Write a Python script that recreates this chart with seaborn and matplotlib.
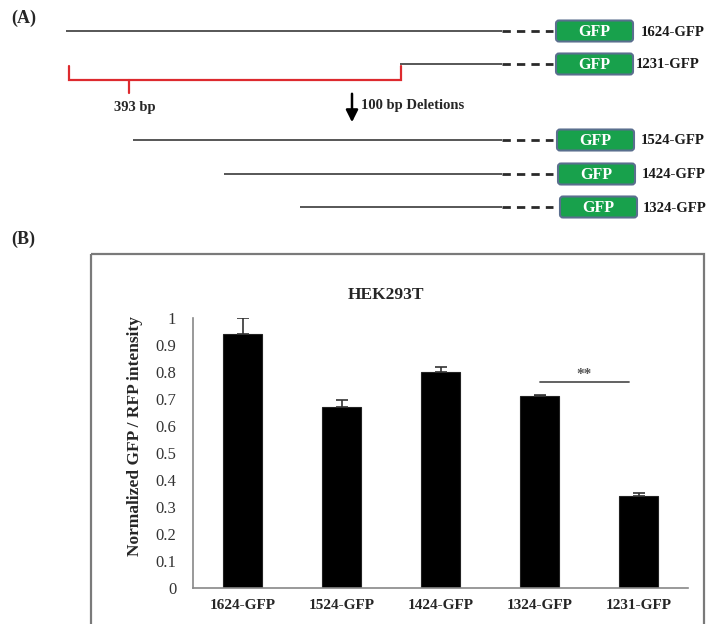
import numpy as np
import pandas as pd
import matplotlib
matplotlib.use("Agg")
import matplotlib.pyplot as plt
import seaborn as sns
from matplotlib.patches import FancyBboxPatch, Rectangle

# ---------------- data ----------------
categories = ["1624-GFP", "1524-GFP", "1424-GFP", "1324-GFP", "1231-GFP"]
values = [0.94, 0.67, 0.80, 0.71, 0.34]
errors = [0.06, 0.025, 0.02, 0.005, 0.012]
yticks = [0, 0.1, 0.2, 0.3, 0.4, 0.5, 0.6, 0.7, 0.8, 0.9, 1]
ytick_labels = ["0", "0.1", "0.2", "0.3", "0.4", "0.5", "0.6", "0.7", "0.8", "0.9", "1"]
sig_pair = [3, 4]
sig_text = "**"

# schematic constructs (panel A)
construct_names = ["1624-GFP", "1231-GFP", "1524-GFP", "1424-GFP", "1324-GFP"]

sns.set_theme(style="white")
plt.rcParams["font.family"] = ["Liberation Serif", "DejaVu Serif"]

W, H = 707, 624
fig = plt.figure(figsize=(W / 100, H / 100), dpi=100)

# ---------------- overlay axes in pixel coordinates ----------------
ov = fig.add_axes([0, 0, 1, 1])
ov.set_xlim(0, W)
ov.set_ylim(H, 0)
ov.axis("off")

ov.text(11, 18, "(A)", fontsize=13, fontweight="bold", va="center", ha="left")
ov.text(11, 239, "(B)", fontsize=13, fontweight="bold", va="center", ha="left")

# construct layout (pixels): y, line start, box left
rows_y = [31, 64, 140, 174, 207]
line_start = [66, 400, 133, 224, 300]
box_left = [556, 556, 557, 558, 560]
label_x = [641, 636, 641, 642, 643]
line_end = 502
dash_end = 553
for name, y, xs, bl, lx in zip(construct_names, rows_y, line_start, box_left, label_x):
    ov.plot([xs, line_end], [y, y], color="#3a3a3a", lw=1.2, solid_capstyle="butt")
    ov.plot([line_end, dash_end], [y, y], color="#2a2a2a", lw=2.0, ls=(0, (3, 2.2)))
    box = FancyBboxPatch((bl, y - 10.5), 77, 21, boxstyle="round,pad=0,rounding_size=3",
                         facecolor="#18a14c", edgecolor="#5a6f8e", lw=1.5)
    ov.add_patch(box)
    ov.text(bl + 38.5, y + 1.2, "GFP", color="white", fontsize=11.5, fontweight="bold",
            ha="center", va="center")
    ov.text(lx, y + 1, name, color="#1a1a1a", fontsize=10.6, fontweight="bold",
            ha="left", va="center")

# red bracket
red = "#dd2a2e"
ov.plot([69, 69, 401, 401], [66, 80, 80, 66], color=red, lw=1.6, solid_joinstyle="miter")
ov.plot([129, 129], [80, 93], color=red, lw=1.6)
ov.text(135, 107, "393 bp", fontsize=10.5, fontweight="bold", ha="center", va="center")

# arrow
ov.annotate("", xy=(352, 125), xytext=(352, 91),
            arrowprops=dict(arrowstyle="-|>,head_length=0.6,head_width=0.3", color="black", lw=1.8))
ov.text(361, 106, "100 bp Deletions", fontsize=10.5, fontweight="bold", ha="left", va="center")

# panel B frame
ov.add_patch(Rectangle((91, 254), 613, 400, facecolor="none", edgecolor="#7a7a7a", lw=1.6))

# ---------------- bar chart ----------------
ax = fig.add_axes([193 / W, 1 - 588 / H, (688 - 193) / W, (588 - 318) / H])
df = pd.DataFrame({"construct": categories, "value": values})
sns.barplot(data=df, x="construct", y="value", color="black", width=0.4,
            edgecolor="#222222", linewidth=0.8, saturation=1, ax=ax)
xpos = np.arange(len(categories))
ax.errorbar(xpos, values, yerr=[np.zeros(len(errors)), errors], fmt="none",
            ecolor="#333333", elinewidth=1.2, capsize=4, capthick=1.2)

ax.set_xlim(-0.5, len(categories) - 0.5)
ax.set_ylim(0, 1)
ax.set_yticks(yticks)
ax.set_yticklabels(ytick_labels, fontsize=12, color="#333333")
ax.set_xticks(xpos)
ax.set_xticklabels(categories, fontsize=11, fontweight="bold")
ax.set_xticks(np.arange(-0.5, len(categories), 1), minor=True)
ax.tick_params(axis="x", which="major", length=0, pad=8)
ax.tick_params(axis="x", which="minor", length=4, width=1, color="#888888", direction="out")
ax.tick_params(axis="y", length=5, width=1, color="#888888", direction="out", pad=7)
for s in ["top", "right"]:
    ax.spines[s].set_visible(False)
for s in ["left", "bottom"]:
    ax.spines[s].set_color("#888888")
    ax.spines[s].set_linewidth(1.2)
ax.set_xlabel("")
ax.set_ylabel("Normalized GFP / RFP intensity", fontsize=12.5, fontweight="bold")
ax.yaxis.set_label_coords(-0.101, 0.563)
ax.set_title("HEK293T", fontsize=12.5, fontweight="bold", x=0.39, pad=14)

# significance
ax.plot([sig_pair[0], sig_pair[1] - 0.1], [0.763, 0.763], color="#555555", lw=1.3)
ax.text((sig_pair[0] + sig_pair[1] - 0.1) / 2, 0.768, sig_text, ha="center", va="bottom",
        fontsize=11, fontweight="bold", color="#555555")

fig.savefig("out.png", dpi=100)
